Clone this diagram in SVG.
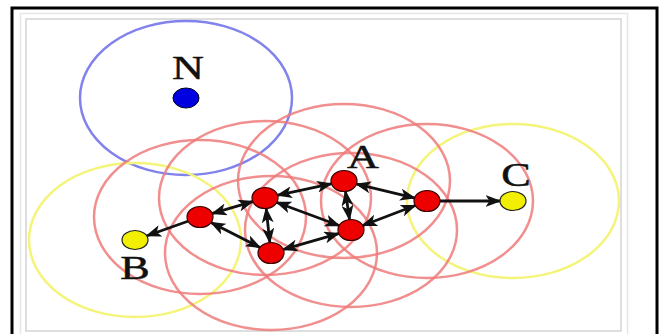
<svg xmlns="http://www.w3.org/2000/svg" width="662" height="334" viewBox="0 0 662 334">
<style>
.rr{fill:none;stroke:#ef7a7a;stroke-opacity:0.85;stroke-width:2.5}
.ry{fill:none;stroke:#f4f47a;stroke-width:2.5}
.rb{fill:none;stroke:#8282ec;stroke-width:2.5}
.dr{fill:#ee0000;stroke:#3a0000;stroke-width:1.2}
.dy{fill:#f2f000;stroke:#222;stroke-width:1.2}
.db{fill:#0000e0;stroke:#002;stroke-width:1}
.lbl{font-family:"Liberation Serif","Times New Roman",serif;font-size:34px;fill:#111;stroke:#111;stroke-width:0.5;text-anchor:middle}
.e{stroke:#111;stroke-width:2.8;fill:none}
</style>
<defs>
<marker id="ah" markerUnits="userSpaceOnUse" markerWidth="16" markerHeight="12" refX="15" refY="6" orient="auto-start-reverse" viewBox="0 0 16 12">
<path d="M0,0 L16,6 L0,12 L4,6 z" fill="#111"/>
</marker>
</defs>
<rect x="0" y="0" width="662" height="334" fill="#fff"/>
<rect x="12" y="8" width="645" height="400" fill="#fff" stroke="#000" stroke-width="3"/>
<rect x="20.5" y="13.5" width="607" height="330" fill="none" stroke="#e6e6e6" stroke-width="1.5"/>
<rect x="26" y="19" width="595" height="312" fill="none" stroke="#d4d4d4" stroke-width="1.5"/>
<g id="ranges">
<ellipse class="rb" cx="186" cy="98" rx="106" ry="77"/>
<ellipse class="ry" cx="135" cy="240" rx="106" ry="77"/>
<ellipse class="ry" cx="513" cy="201" rx="106" ry="77"/>
<ellipse class="rr" cx="200" cy="217" rx="106" ry="77"/>
<ellipse class="rr" cx="265" cy="198" rx="106" ry="77"/>
<ellipse class="rr" cx="344" cy="181" rx="106" ry="77"/>
<ellipse class="rr" cx="427" cy="201" rx="106" ry="77"/>
<ellipse class="rr" cx="351" cy="230" rx="106" ry="77"/>
<ellipse class="rr" cx="271" cy="253" rx="106" ry="77"/>
</g>
<g id="connectors">
<line class="e" x1="211.7" y1="213.6" x2="253.3" y2="201.4" marker-start="url(#ah)" marker-end="url(#ah)"/>
<line class="e" x1="188.6" y1="221" x2="146.4" y2="236" marker-end="url(#ah)"/>
<line class="e" x1="210.5" y1="222.3" x2="260.5" y2="247.7" marker-start="url(#ah)" marker-end="url(#ah)"/>
<line class="e" x1="277" y1="195.4" x2="332" y2="183.6" marker-start="url(#ah)" marker-end="url(#ah)"/>
<line class="e" x1="266.1" y1="207.9" x2="269.9" y2="243.1" marker-start="url(#ah)" marker-end="url(#ah)"/>
<line class="e" x1="276.2" y1="202.2" x2="339.8" y2="225.8" marker-start="url(#ah)" marker-end="url(#ah)"/>
<line class="e" x1="345.4" y1="190.9" x2="349.6" y2="220.1" marker-start="url(#ah)" marker-end="url(#ah)"/>
<line class="e" x1="355.9" y1="183.9" x2="415.1" y2="198.1" marker-start="url(#ah)" marker-end="url(#ah)"/>
<line class="e" x1="282.7" y1="249.6" x2="339.3" y2="233.4" marker-start="url(#ah)" marker-end="url(#ah)"/>
<line class="e" x1="362.2" y1="225.7" x2="415.8" y2="205.3" marker-start="url(#ah)" marker-end="url(#ah)"/>
<line class="e" x1="439.5" y1="201" x2="500.5" y2="201" marker-end="url(#ah)"/>
</g>
<g id="node-N">
<ellipse class="db" cx="186" cy="98" rx="13" ry="10"/>
<text class="lbl" transform="translate(188,79) scale(1.3,1)">N</text>
</g>
<g id="node-1"><ellipse class="dr" cx="200" cy="217" rx="13" ry="10.5"/></g>
<g id="node-2"><ellipse class="dr" cx="265" cy="198" rx="13" ry="10.5"/></g>
<g id="node-A">
<ellipse class="dr" cx="344" cy="181" rx="13" ry="10.5"/>
<text class="lbl" transform="translate(363,168) scale(1.3,1)">A</text>
</g>
<g id="node-4"><ellipse class="dr" cx="427" cy="201" rx="13" ry="10.5"/></g>
<g id="node-5"><ellipse class="dr" cx="351" cy="230" rx="13" ry="10.5"/></g>
<g id="node-6"><ellipse class="dr" cx="271" cy="253" rx="13" ry="10.5"/></g>
<g id="node-B">
<ellipse class="dy" cx="135" cy="240" rx="13" ry="9.5"/>
<text class="lbl" transform="translate(135,279) scale(1.3,1)">B</text>
</g>
<g id="node-C">
<ellipse class="dy" cx="513" cy="201" rx="13" ry="9.5"/>
<text class="lbl" transform="translate(516,186) scale(1.3,1)">C</text>
</g>
</svg>
